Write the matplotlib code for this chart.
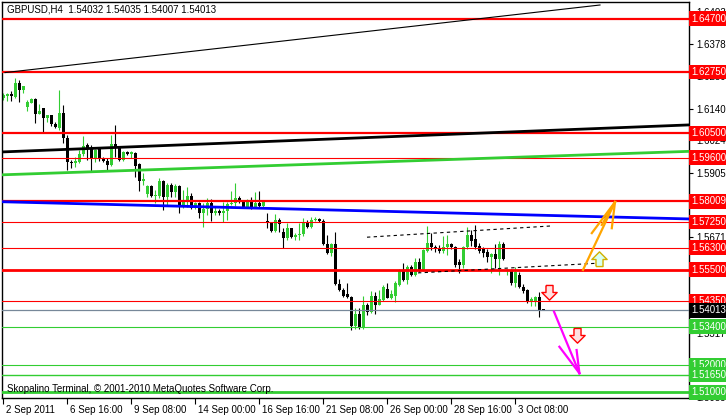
import numpy as np
import matplotlib.pyplot as plt
from matplotlib import transforms
from matplotlib.path import Path

plt.rcParams['font.family'] = ['Liberation Sans', 'DejaVu Sans']
plt.rcParams['font.size'] = 7

# GBPUSD H4, from 2 Sep 2011 00:00, one bar every 4 hours
opens = [1.6180, 1.6187, 1.6195, 1.6184, 1.6235, 1.6209, 1.6147, 1.6162, 1.6176, 1.6121,
         1.6143, 1.6107, 1.6118, 1.6085, 1.6070, 1.6125, 1.6033, 1.5945, 1.5941, 1.5945,
         1.5975, 1.6008, 1.5997, 1.5956, 1.5993, 1.5956, 1.5949, 1.5934, 1.6011, 1.5997,
         1.5953, 1.5982, 1.5975, 1.5978, 1.5938, 1.5875, 1.5828, 1.5857, 1.5820, 1.5820,
         1.5875, 1.5817, 1.5861, 1.5835, 1.5857, 1.5787, 1.5798, 1.5820, 1.5776, 1.5795,
         1.5758, 1.5773, 1.5795, 1.5758, 1.5765, 1.5758, 1.5765, 1.5791, 1.5795, 1.5813,
         1.5798, 1.5780, 1.5802, 1.5780, 1.5795, 1.5784, 1.5729, 1.5722, 1.5692, 1.5732,
         1.5688, 1.5666, 1.5703, 1.5670, 1.5677, 1.5681, 1.5722, 1.5707, 1.5732, 1.5736,
         1.5729, 1.5644, 1.5611, 1.5644, 1.5497, 1.5475, 1.5461, 1.5450, 1.5343, 1.5387,
         1.5340, 1.5420, 1.5395, 1.5453, 1.5420, 1.5439, 1.5479, 1.5446, 1.5453, 1.5494,
         1.5549, 1.5512, 1.5560, 1.5530, 1.5578, 1.5549, 1.5619, 1.5648, 1.5633, 1.5630,
         1.5619, 1.5633, 1.5644, 1.5633, 1.5578, 1.5567, 1.5633, 1.5677, 1.5663, 1.5637,
         1.5630, 1.5615, 1.5597, 1.5608, 1.5589, 1.5644, 1.5545, 1.5549, 1.5501, 1.5530,
         1.5486, 1.5475, 1.5435, 1.5435, 1.5450, 1.54032]
highs = [1.6198, 1.6198, 1.6206, 1.6253, 1.6246, 1.6224, 1.6173, 1.6180, 1.6180, 1.6158,
         1.6143, 1.6118, 1.6118, 1.6092, 1.6209, 1.6154, 1.6044, 1.5953, 1.5963, 1.5989,
         1.6041, 1.6015, 1.6008, 1.5993, 1.5997, 1.5963, 1.5960, 1.6044, 1.6081, 1.6000,
         1.5986, 1.5986, 1.5986, 1.5982, 1.5941, 1.5905, 1.5861, 1.5861, 1.5842, 1.5886,
         1.5879, 1.5868, 1.5868, 1.5864, 1.5861, 1.5842, 1.5853, 1.5831, 1.5798, 1.5798,
         1.5795, 1.5813, 1.5809, 1.5784, 1.5773, 1.5798, 1.5798, 1.5839, 1.5868, 1.5820,
         1.5802, 1.5809, 1.5817, 1.5835, 1.5839, 1.5806, 1.5758, 1.5725, 1.5754, 1.5740,
         1.5703, 1.5722, 1.5703, 1.5685, 1.5722, 1.5740, 1.5732, 1.5743, 1.5743, 1.5740,
         1.5736, 1.5677, 1.5648, 1.5688, 1.5516, 1.5483, 1.5501, 1.5453, 1.5409, 1.5409,
         1.5453, 1.5428, 1.5472, 1.5468, 1.5475, 1.5494, 1.5501, 1.5475, 1.5508, 1.5552,
         1.5574, 1.5567, 1.5567, 1.5593, 1.5593, 1.5626, 1.5710, 1.5685, 1.5641, 1.5641,
         1.5674, 1.5677, 1.5648, 1.5637, 1.5589, 1.5637, 1.5707, 1.5696, 1.5714, 1.5648,
         1.5633, 1.5626, 1.5611, 1.5644, 1.5655, 1.5652, 1.5552, 1.5552, 1.5560, 1.5541,
         1.5497, 1.5479, 1.5450, 1.5453, 1.5468, 1.54035]
lows = [1.6173, 1.6169, 1.6169, 1.6180, 1.6165, 1.6198, 1.6132, 1.6162, 1.6088, 1.6121,
        1.6055, 1.6092, 1.6077, 1.6070, 1.6063, 1.6015, 1.5916, 1.5923, 1.5927, 1.5941,
        1.5967, 1.5953, 1.5909, 1.5945, 1.5949, 1.5945, 1.5916, 1.5930, 1.5963, 1.5949,
        1.5949, 1.5971, 1.5960, 1.5890, 1.5839, 1.5861, 1.5817, 1.5817, 1.5795, 1.5813,
        1.5769, 1.5784, 1.5817, 1.5817, 1.5758, 1.5776, 1.5780, 1.5773, 1.5773, 1.5740,
        1.5707, 1.5751, 1.5729, 1.5751, 1.5751, 1.5725, 1.5732, 1.5787, 1.5784, 1.5795,
        1.5776, 1.5776, 1.5773, 1.5776, 1.5780, 1.5780, 1.5703, 1.5688, 1.5688, 1.5688,
        1.5630, 1.5659, 1.5666, 1.5659, 1.5659, 1.5674, 1.5703, 1.5703, 1.5729, 1.5725,
        1.5641, 1.5608, 1.5600, 1.5494, 1.5472, 1.5450, 1.5446, 1.5329, 1.5332, 1.5332,
        1.5332, 1.5384, 1.5391, 1.5387, 1.5420, 1.5435, 1.5446, 1.5442, 1.5431, 1.5490,
        1.5508, 1.5497, 1.5527, 1.5527, 1.5541, 1.5545, 1.5615, 1.5622, 1.5615, 1.5611,
        1.5611, 1.5604, 1.5626, 1.5560, 1.5538, 1.5556, 1.5626, 1.5637, 1.5626, 1.5611,
        1.5597, 1.5578, 1.5538, 1.5556, 1.5530, 1.5586, 1.5530, 1.5494, 1.5486, 1.5483,
        1.5464, 1.5428, 1.5417, 1.5417, 1.5376, 1.54007]
closes = [1.6191, 1.6195, 1.6187, 1.6235, 1.6209, 1.6224, 1.6165, 1.6176, 1.6121, 1.6132,
          1.6107, 1.6118, 1.6085, 1.6074, 1.6125, 1.6033, 1.5945, 1.5941, 1.5949, 1.5975,
          1.6004, 1.5997, 1.5956, 1.5989, 1.5956, 1.5949, 1.5934, 1.6011, 1.5997, 1.5953,
          1.5982, 1.5975, 1.5982, 1.5930, 1.5875, 1.5883, 1.5857, 1.5820, 1.5824, 1.5875,
          1.5817, 1.5861, 1.5835, 1.5857, 1.5787, 1.5798, 1.5820, 1.5776, 1.5795, 1.5758,
          1.5773, 1.5795, 1.5758, 1.5765, 1.5758, 1.5765, 1.5791, 1.5795, 1.5813, 1.5798,
          1.5780, 1.5802, 1.5780, 1.5795, 1.5784, 1.5798, 1.5722, 1.5692, 1.5732, 1.5718,
          1.5666, 1.5703, 1.5670, 1.5677, 1.5681, 1.5722, 1.5707, 1.5732, 1.5736, 1.5729,
          1.5644, 1.5611, 1.5644, 1.5497, 1.5475, 1.5453, 1.5450, 1.5343, 1.5387, 1.5340,
          1.5420, 1.5395, 1.5453, 1.5420, 1.5442, 1.5486, 1.5446, 1.5461, 1.5501, 1.5549,
          1.5512, 1.5560, 1.5530, 1.5578, 1.5549, 1.5622, 1.5648, 1.5633, 1.5630, 1.5619,
          1.5633, 1.5644, 1.5633, 1.5567, 1.5567, 1.5633, 1.5677, 1.5655, 1.5633, 1.5619,
          1.5611, 1.5597, 1.5608, 1.5589, 1.5644, 1.5589, 1.5549, 1.5501, 1.5541, 1.5486,
          1.5472, 1.5431, 1.5442, 1.5450, 1.5398, 1.54013]

xtick_bars = [0, 16, 32, 48, 64, 80, 96, 112, 128]
xtick_labels = ["2 Sep 2011", "6 Sep 16:00", "9 Sep 08:00", "14 Sep 00:00", "16 Sep 16:00",
                "21 Sep 08:00", "26 Sep 00:00", "28 Sep 16:00", "3 Oct 08:00"]
yticks = [1.64935, 1.63780, 1.62595, 1.61400, 1.60245, 1.59055, 1.57865, 1.56710,
          1.55525, 1.54330, 1.53175, 1.51985, 1.50830]

resist = [1.6470, 1.6275, 1.6050, 1.5960, 1.58009, 1.5725, 1.5630, 1.5550, 1.5435]
resist_lw = [1.6, 1.6, 1.6, 0.8, 1.6, 0.8, 0.8, 2.0, 0.8]
support = [1.5340, 1.5200, 1.5165, 1.5100]
support_lw = [0.8, 0.8, 1.0, 2.0]
bid = 1.54013

# trend lines as (bar, price) pairs
trend_thin = [(0.5, 1.6273), (149.25, 1.6521)]
trend_black = [(0, 1.5982), (171.5, 1.6081)]
trend_green = [(0, 1.5898), (171.5, 1.5984)]
trend_blue = [(0, 1.5799), (171.5, 1.5736)]
dash_upper = [(91, 1.5669), (136.75, 1.5710)]
dash_lower = [(103.75, 1.5538), (149.25, 1.5574)]

# hand drawn arrows: tip and the tails of each stroke
orange_tip = (153, 1.5798)
orange_tails = [(145, 1.5549), (147.2, 1.5684), (149.7, 1.5714), (152.2, 1.5702)]
pink_tip = (144.1, 1.5170)
pink_tails = [(137.75, 1.5396), (139.1, 1.5267), (143.4, 1.5255)]

down_marks = [(136.5, 1.5469), (143.6, 1.5310)]
up_marks = [(149, 1.5589)]

GREEN = '#32CD32'

fig = plt.figure(figsize=(7.26, 4.16), dpi=100)
ax = fig.add_axes([2 / 726, 18 / 416, 687 / 726, 396 / 416])
ax.set_xlim(-0.25, 171.5)
ax.set_ylim(1.5079, 1.6532)

# candles
o = np.array(opens)
c = np.array(closes)
x = np.arange(len(o))
up = c >= o
wick_col = [GREEN if u else 'black' for u in up]
ax.vlines(x, lows, highs, colors=wick_col, lw=0.8, zorder=2)
bottom = np.minimum(o, c)
height = np.maximum(np.abs(c - o), 0.00025)
ax.bar(x, height, bottom=bottom, width=0.75, color=wick_col, linewidth=0, zorder=2)

# horizontal levels
for v, lw in zip(resist, resist_lw):
    ax.axhline(v, color='red', lw=lw, zorder=3)
for v, lw in zip(support, support_lw):
    ax.axhline(v, color=GREEN, lw=lw, zorder=3)
ax.axhline(bid, color='#778899', lw=0.9, zorder=3)

# trend lines
ax.plot(*zip(*trend_thin), color='black', lw=0.8, zorder=3)
ax.axline(*trend_black, color='black', lw=2.0, zorder=3)
ax.axline(*trend_green, color=GREEN, lw=2.0, zorder=3)
ax.axline(*trend_blue, color='blue', lw=2.0, zorder=3)
ax.plot(*zip(*dash_upper), color='black', lw=0.8, ls=(0, (3, 3)), zorder=3)
ax.plot(*zip(*dash_lower), color='black', lw=0.8, ls=(0, (3, 3)), zorder=3)

for t in orange_tails:
    ax.plot([t[0], orange_tip[0]], [t[1], orange_tip[1]], color='#FFA500', lw=1.6, zorder=4)
for t in pink_tails:
    ax.plot([t[0], pink_tip[0]], [t[1], pink_tip[1]], color='#FF00FF', lw=1.6, zorder=4)

down_arrow = Path([(-0.3, 0.6), (0.3, 0.6), (0.3, 0.0), (0.65, 0.0), (0.0, -0.65),
                   (-0.65, 0.0), (-0.3, 0.0), (-0.3, 0.6)])
up_arrow = Path([(-0.3, -0.6), (0.3, -0.6), (0.3, 0.0), (0.65, 0.0), (0.0, 0.65),
                 (-0.65, 0.0), (-0.3, 0.0), (-0.3, -0.6)])
for px, py in down_marks:
    ax.plot(px, py, marker=down_arrow, ms=11, mfc='#FFE0E0', mec='red', mew=1.0, zorder=5)
for px, py in up_marks:
    ax.plot(px, py, marker=up_arrow, ms=11, mfc='#D8FFF0', mec='#D0B000', mew=1.0, zorder=5)

# axes styling
for s in ax.spines.values():
    s.set_color('black')
    s.set_linewidth(1.0)
ax.yaxis.tick_right()
ax.set_yticks(yticks)
ax.set_yticklabels([f"{v:.5f}" for v in yticks])
ax.tick_params(axis='y', direction='out', length=3, width=0.8, pad=2, labelsize=7)
ax.set_xticks(xtick_bars)
ax.set_xticklabels(xtick_labels)
ax.tick_params(axis='x', direction='out', length=4, width=0.8, pad=1, labelsize=7)
shift = transforms.ScaledTranslation(2 / 72, 0, fig.dpi_scale_trans)
for lab in ax.get_xticklabels():
    lab.set_ha('left')
    lab.set_transform(lab.get_transform() + shift)

# price labels on the right scale
lab_tr = transforms.blended_transform_factory(ax.transAxes, ax.transData)
def price_tag(v, col):
    ax.text(1.004, v, f"{v:.5f}", transform=lab_tr, ha='left', va='center',
            color='white', fontsize=7, clip_on=False, zorder=6,
            bbox=dict(boxstyle='square,pad=0.25', fc=col, ec='none'))

for v in resist:
    price_tag(v, 'red')
for v in support:
    price_tag(v, GREEN)
price_tag(bid, 'black')

fig.text(7 / 726, 1 - 10 / 416, "GBPUSD,H4  1.54032 1.54035 1.54007 1.54013",
         va='center', ha='left', fontsize=7)
fig.text(7 / 726, 1 - 389 / 416, "Skopalino Terminal, \u00a9 2001-2010 MetaQuotes Software Corp.",
         va='center', ha='left', fontsize=7, zorder=10)

fig.savefig('out.png', dpi=100)
